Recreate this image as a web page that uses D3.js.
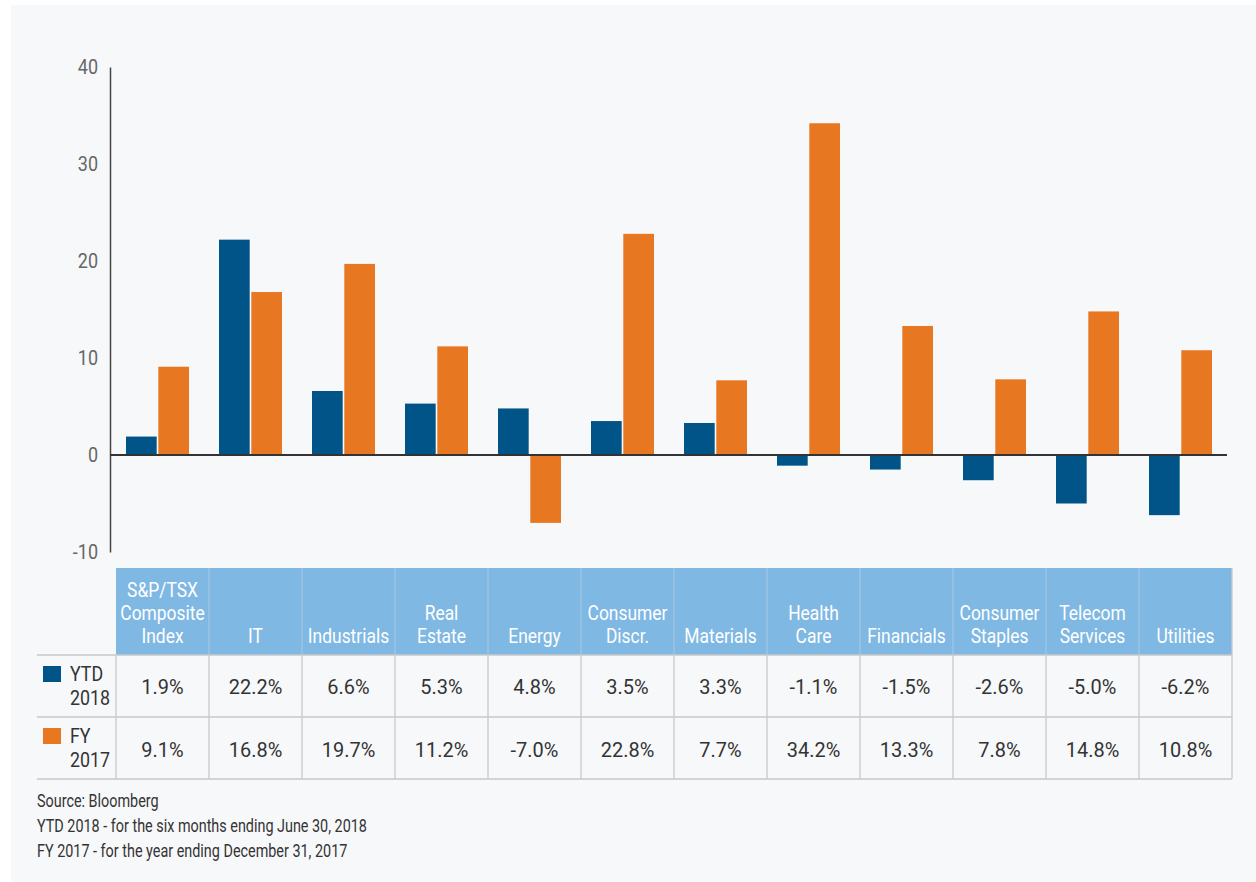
<!DOCTYPE html>
<html><head><meta charset="utf-8">
<script src="https://cdn.jsdelivr.net/npm/d3@7"></script>
<style>
html,body{margin:0;padding:0;background:#fff;}
svg{display:block;}
text{font-family:"Roboto","Noto Sans",sans-serif;}
</style></head>
<body>
<svg id="chart" width="1256" height="882"></svg>
<script>
const categories = ["S&P/TSX Composite Index","IT","Industrials","Real Estate","Energy","Consumer Discr.","Materials","Health Care","Financials","Consumer Staples","Telecom Services","Utilities"];
const headerLabels = [["S&P/TSX","Composite","Index"],["IT"],["Industrials"],["Real","Estate"],["Energy"],["Consumer","Discr."],["Materials"],["Health","Care"],["Financials"],["Consumer","Staples"],["Telecom","Services"],["Utilities"]];
const ytd2018 = [1.9, 22.2, 6.6, 5.3, 4.8, 3.5, 3.3, -1.1, -1.5, -2.6, -5.0, -6.2];
const fy2017 = [9.1, 16.8, 19.7, 11.2, -7.0, 22.8, 7.7, 34.2, 13.3, 7.8, 14.8, 10.8];
const seriesNames = ["YTD 2018","FY 2017"];
const seriesLabels = [["YTD","2018"],["FY","2017"]];
const yTicks = [-10, 0, 10, 20, 30, 40];
const notes = ["Source: Bloomberg","YTD 2018 - for the six months ending June 30, 2018","FY 2017 - for the year ending December 31, 2017"];

const colors = {"YTD 2018":"#005487","FY 2017":"#e87722"};
const series = [ytd2018, fy2017];

const svg = d3.select("#chart");
svg.append("rect").attr("x",11).attr("y",5).attr("width",1245).attr("height",877).attr("fill","#f7f8fa");

function txt(x0, y0, s, size, fill, anchor, sx){
  return svg.append("text")
    .attr("transform", `translate(${x0},${y0}) scale(${sx},1)`)
    .attr("text-anchor", anchor).attr("font-size", size).attr("fill", fill).text(s);
}
function multi(x0, y0, lines, lh, size, fill, anchor, sx){
  const t = svg.append("text")
    .attr("transform", `translate(${x0},${y0}) scale(${sx},1)`)
    .attr("text-anchor", anchor).attr("font-size", size).attr("fill", fill);
  lines.forEach((s,k)=>{ t.append("tspan").attr("x",0).attr("dy", k===0?0:lh).text(s); });
  return t;
}
const hy = s => String(s).replace("\u2212","-");

const x = d3.scaleBand().domain(categories).range([116,1232]).paddingInner(0).paddingOuter(0);
const x1 = d3.scaleBand().domain(seriesNames).range([10,73]).paddingInner(0.05);
const y = d3.scaleLinear().domain([-10,40]).range([552,67]);

// y axis
const yAxis = d3.axisLeft(y).tickValues(yTicks).tickSize(0).tickFormat(d=>"");
const gy = svg.append("g").attr("transform","translate(110,0)").call(yAxis);
gy.select(".domain").attr("stroke","#444").attr("stroke-width",1.5);
yTicks.forEach(t=>{
  txt(98, y(t)+7, hy(d3.format("d")(t)), 20, "#666", "end", 0.9);
});

// bars
categories.forEach((c,i)=>{
  seriesNames.forEach((s,j)=>{
    const v = series[j][i];
    svg.append("rect")
      .attr("x", x(c)+x1(s))
      .attr("width", x1.bandwidth())
      .attr("y", y(Math.max(0,v)))
      .attr("height", Math.abs(y(v)-y(0)))
      .attr("fill", colors[s]);
  });
});

// zero line
svg.append("line").attr("x1",110).attr("x2",1227).attr("y1",y(0)).attr("y2",y(0)).attr("stroke","#333").attr("stroke-width",2);

// table
const headTop = 568, headBot = 655, row1Bot = 717, row2Bot = 779;
svg.append("rect").attr("x",116).attr("y",headTop).attr("width",1232-116).attr("height",headBot-headTop).attr("fill","#80b8e4");
categories.forEach((c,i)=>{
  if(i>0) svg.append("line").attr("x1",x(c)).attr("x2",x(c)).attr("y1",headTop).attr("y2",headBot).attr("stroke","#a9c8e0").attr("stroke-width",1);
});
categories.forEach((c,i)=>{
  svg.append("line").attr("x1",x(c)).attr("x2",x(c)).attr("y1",headBot).attr("y2",row2Bot).attr("stroke","#c8c8c8").attr("stroke-width",1.3);
});
svg.append("line").attr("x1",1232).attr("x2",1232).attr("y1",headTop).attr("y2",row2Bot).attr("stroke","#c8c8c8").attr("stroke-width",1.3);
[headBot,row1Bot,row2Bot].forEach(yy=>{
  svg.append("line").attr("x1",37).attr("x2",1232).attr("y1",yy).attr("y2",yy).attr("stroke","#c8c8c8").attr("stroke-width",1.3);
});
// header text
categories.forEach((c,i)=>{
  const lines = headerLabels[i];
  const cx = x(c)+x.bandwidth()/2;
  multi(cx, 643-(lines.length-1)*23, lines, 23, 21, "#fff", "middle", 0.83);
});
// values
const rowCenters = [686, 749];
series.forEach((arr,j)=>{
  arr.forEach((v,i)=>{
    txt(x(categories[i])+x.bandwidth()/2, rowCenters[j]+7.5, hy(d3.format(".1f")(v))+"%", 21, "#333", "middle", 0.95);
  });
  const top = j===0?headBot:row1Bot;
  svg.append("rect").attr("x",43).attr("y",top+11).attr("width",18).attr("height",16).attr("fill",colors[seriesNames[j]]);
  multi(70, top+26, seriesLabels[j], 24, 20.5, "#333", "start", 0.87);
});

// notes
notes.forEach((t,k)=>{
  txt(37, 807+k*25, t, 18, "#333", "start", 0.8);
});
</script>
</body></html>
